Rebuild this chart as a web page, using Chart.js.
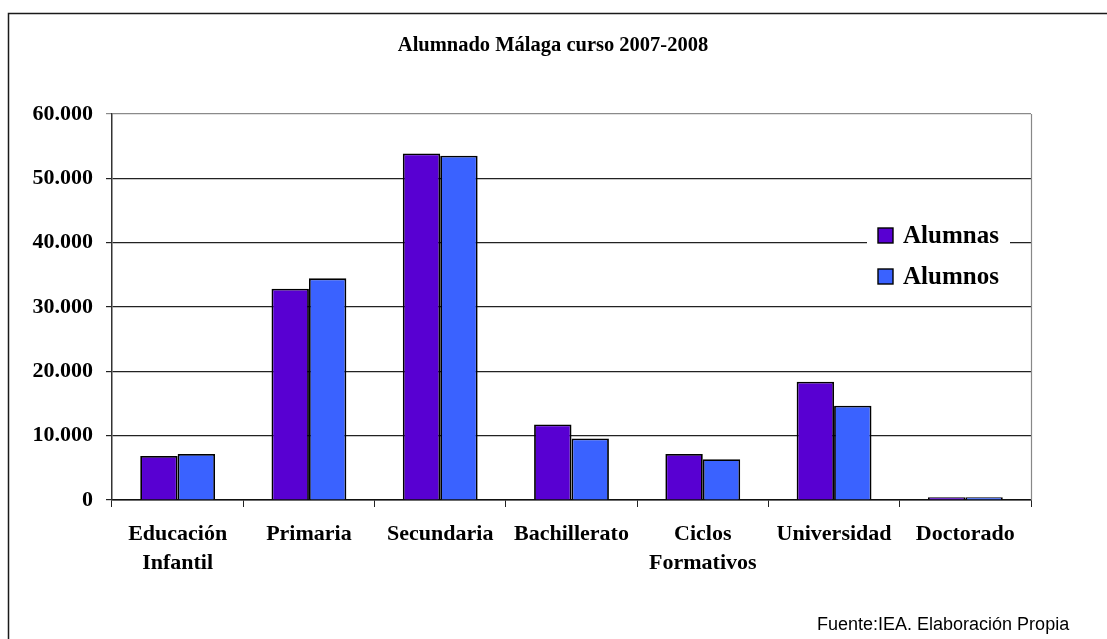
<!DOCTYPE html>
<html>
<head>
<meta charset="utf-8">
<script src="https://cdn.jsdelivr.net/npm/chart.js@4/dist/chart.umd.min.js"></script>
<style>
  html, body { margin: 0; padding: 0; background: #fff; }
  #wrap { width: 1107px; height: 639px; position: relative; }
</style>
</head>
<body>
<div id="wrap"><canvas id="c" width="1107" height="639"></canvas></div>
<script>
const categories = [["Educación", "Infantil"], "Primaria", "Secundaria", "Bachillerato", ["Ciclos", "Formativos"], "Universidad", "Doctorado"];
const alumnas = [6850, 32850, 53850, 11750, 7150, 18400, 420];
const alumnos = [7150, 34450, 53500, 9550, 6350, 14650, 420];
const seriesNames = ["Alumnas", "Alumnos"];
const titleText = "Alumnado Málaga curso 2007-2008";
const sourceText = "Fuente:IEA. Elaboración Propia";

const SERIF = "'Liberation Serif', 'Times New Roman', serif";

const framePlugin = {
  id: 'frame',
  beforeDraw(chart) {
    const ctx = chart.ctx;
    ctx.save();
    ctx.fillStyle = '#fff';
    ctx.fillRect(0, 0, chart.width, chart.height);
    ctx.strokeStyle = '#1a1a1a';
    ctx.lineWidth = 1.5;
    ctx.strokeRect(8.5, 13.5, 1300, 800);
    // title
    ctx.fillStyle = '#000';
    ctx.font = 'bold 20.5px ' + SERIF;
    ctx.textAlign = 'center';
    ctx.textBaseline = 'middle';
    ctx.fillText(titleText, 553, 46);
    ctx.restore();
  },
  afterDatasetsDraw(chart) {
    const ctx = chart.ctx;
    const a = chart.chartArea;
    ctx.save();
    // right border of plot
    ctx.strokeStyle = '#888';
    ctx.lineWidth = 1.2;
    ctx.beginPath();
    ctx.moveTo(a.right + 0.5, a.top);
    ctx.lineTo(a.right + 0.5, a.bottom);
    ctx.stroke();

    // legend
    const lx = 867, ly = 222, lw = 143, lh = 72;
    ctx.fillStyle = '#fff';
    ctx.fillRect(lx, ly, lw, lh);
    ctx.font = 'bold 25px ' + SERIF;
    ctx.textBaseline = 'middle';
    ctx.textAlign = 'left';
    const centers = [235.5, 276.5];
    chart.data.datasets.forEach((ds, i) => {
      const cy = centers[i];
      ctx.fillStyle = ds.backgroundColor;
      ctx.fillRect(878, cy - 7.5, 15, 15);
      ctx.strokeStyle = '#000';
      ctx.lineWidth = 1.4;
      ctx.strokeRect(878, cy - 7.5, 15, 15);
      ctx.fillStyle = '#000';
      ctx.fillText(ds.label, 903, cy + 1);
    });

    // source note
    ctx.font = "18px 'Liberation Sans', Arial, sans-serif";
    ctx.fillStyle = '#000';
    ctx.textBaseline = 'middle';
    ctx.fillText(sourceText, 817, 625);
    ctx.restore();
  }
};

new Chart(document.getElementById('c'), {
  type: 'bar',
  data: {
    labels: categories,
    datasets: [
      { label: seriesNames[0], data: alumnas, backgroundColor: '#5800D2', borderColor: '#000', borderWidth: 1.8 },
      { label: seriesNames[1], data: alumnos, backgroundColor: '#3A62FF', borderColor: '#000', borderWidth: 1.8 }
    ]
  },
  options: {
    responsive: false,
    animation: false,
    devicePixelRatio: 1,
    layout: { padding: { top: 114, right: 76, bottom: 0, left: 0 } },
    datasets: { bar: { categoryPercentage: 0.57, barPercentage: 1.0 } },
    plugins: {
      legend: { display: false },
      tooltip: { enabled: false },
      title: { display: false }
    },
    scales: {
      x: {
        grid: { display: true, drawOnChartArea: false, tickLength: 7, color: '#222', offset: true },
        border: { color: '#111', width: 1.5 },
        ticks: {
          color: '#000',
          font: { family: SERIF, size: 22, weight: 'bold', lineHeight: 1.32 },
          padding: 13,
          maxRotation: 0,
          autoSkip: false
        },
        afterFit(scale) { scale.height = 139; }
      },
      y: {
        min: 0, max: 60000,
        ticks: {
          stepSize: 10000,
          color: '#000',
          padding: 13,
          font: { family: SERIF, size: 22, weight: 'bold' },
          callback: (v) => v === 0 ? '0' : String(v).replace(/\B(?=(\d{3})+(?!\d))/g, '.')
        },
        grid: {
          tickLength: 6,
          color: (c) => (c.tick && c.tick.value === 60000) ? '#8a8a8a' : '#222',
          lineWidth: 1.2
        },
        border: { color: '#333', width: 1.5 },
        afterFit(scale) { scale.width = 112; }
      }
    }
  },
  plugins: [framePlugin]
});
</script>
</body>
</html>
